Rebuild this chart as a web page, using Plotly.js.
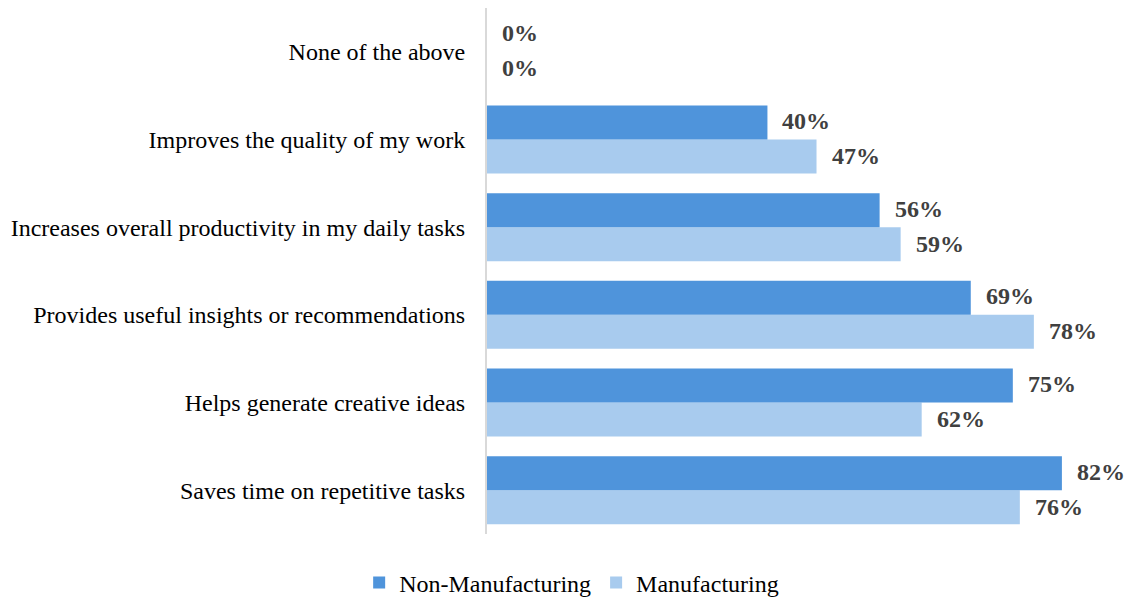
<!DOCTYPE html>
<html>
<head>
<meta charset="utf-8">
<script src="https://cdn.plot.ly/plotly-3.0.1.min.js"></script>
<style>html,body{margin:0;padding:0;background:#fff;}#chart{width:1132px;height:599px;}</style>
</head>
<body>
<div id="chart"></div>
<script>
var categories = [
  "Saves time on repetitive tasks",
  "Helps generate creative ideas",
  "Provides useful insights or recommendations",
  "Increases overall productivity in my daily tasks",
  "Improves the quality of my work",
  "None of the above"
];
var nonManufacturing = [82, 75, 69, 56, 40, 0];
var manufacturing = [76, 62, 78, 59, 47, 0];
var seriesNames = ["Non-Manufacturing", "Manufacturing"];
var colors = ["#4F94DB", "#A8CBEE"];

var serif = "Liberation Serif, Times New Roman, serif";
var labelFont = {family: serif, size: 24, color: "#404040"};

var traces = [
  {type: "bar", orientation: "h", name: seriesNames[1], y: categories, x: manufacturing,
   marker: {color: colors[1]}, legendrank: 2, hoverinfo: "x"},
  {type: "bar", orientation: "h", name: seriesNames[0], y: categories, x: nonManufacturing,
   marker: {color: colors[0]}, legendrank: 1, hoverinfo: "x"}
];

// data labels, placed via the axis scales
var annotations = [];
var pairs = [[nonManufacturing, 0.2], [manufacturing, -0.2]];
pairs.forEach(function (p) {
  p[0].forEach(function (v, i) {
    annotations.push({
      x: v, y: i + p[1], xref: "x", yref: "y",
      text: "<b>" + v + "%</b>", showarrow: false,
      xanchor: "left", yanchor: "middle", xshift: 13, yshift: 1,
      font: labelFont
    });
  });
});

var layout = {
  width: 1132, height: 599,
  margin: {l: 487, r: 14, t: 8, b: 65},
  paper_bgcolor: "#fff", plot_bgcolor: "#fff",
  barmode: "group", bargap: 0.225, bargroupgap: 0,
  xaxis: {range: [0, 90], showgrid: false, zeroline: false, showticklabels: false,
          showline: false, ticks: "", fixedrange: true},
  yaxis: {type: "category", categoryorder: "array", categoryarray: categories,
          range: [-0.5, 5.5], showgrid: false, zeroline: false,
          showline: true, linecolor: "#D9D9D9", linewidth: 2, ticks: "",
          ticklabelstandoff: 15,
          tickfont: {family: serif, size: 24, color: "#000"}},
  showlegend: true,
  legend: {orientation: "h", xref: "container", yref: "container",
           x: 0.505, xanchor: "center", y: 0.027, yanchor: "middle",
           font: {family: serif, size: 24, color: "#000"},
           itemwidth: 30, traceorder: "normal"},
  annotations: annotations
};

Plotly.newPlot("chart", traces, layout, {displayModeBar: false, staticPlot: true});
</script>
</body>
</html>
